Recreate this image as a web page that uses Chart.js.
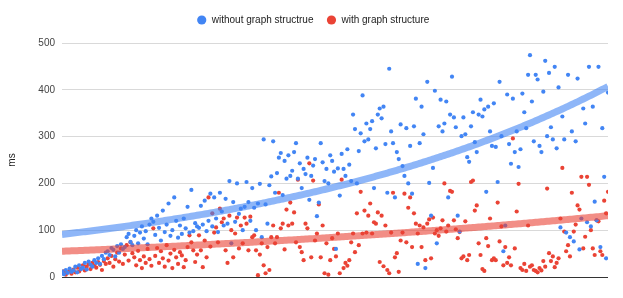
<!DOCTYPE html>
<html>
<head>
<meta charset="utf-8">
<script src="https://cdn.jsdelivr.net/npm/chart.js@4.4.1/dist/chart.umd.min.js"></script>
<style>
  html, body { margin: 0; padding: 0; background: #fff; }
</style>
</head>
<body>
<canvas id="chart" width="623" height="298"></canvas>
<script>
// series labels (the typo is in the original chart)
const seriesNames = ['without graph structrue', 'with graph structure'];

// values in ms, one per run left to right
const withoutGraph = [
  12, 6, 15, 9, 18, 11, 14, 22, 10, 25, 17, 20, 30, 16, 33, 26, 22, 36, 30, 40, 28, 45, 38, 52,
  55, 47, 62, 58, 44, 66, 52, 70, 60, 64, 85, 92, 75, 68, 88, 100, 72, 95, 108, 82, 98, 70, 112, 125,
  118, 90, 131, 105, 78, 142, 96, 112, 157, 88, 100, 170, 120, 84, 110, 92, 125, 104, 150, 95, 186, 98, 115, 108,
  105, 152, 112, 163, 98, 120, 178, 108, 170, 125, 96, 180, 140, 110, 167, 114, 205, 72, 160, 118, 200, 135, 146, 100,
  150, 203, 160, 120, 190, 148, 100, 157, 199, 85, 294, 155, 114, 196, 215, 290, 180, 222, 255, 265, 175, 248, 210, 260,
  216, 227, 267, 286, 210, 243, 190, 231, 220, 255, 165, 216, 238, 252, 130, 159, 286, 245, 205, 231, 200, 260, 248, 225,
  60, 232, 174, 263, 231, 216, 273, 240, 205, 347, 316, 200, 269, 307, 388, 290, 328, 294, 316, 333, 190, 275, 347, 360,
  339, 364, 284, 180, 445, 311, 286, 170, 267, 252, 326, 237, 216, 318, 200, 280, 178, 322, 381, 28, 286, 364, 305, 19,
  417, 201, 131, 233, 398, 72, 322, 379, 311, 328, 375, 170, 347, 428, 341, 320, 131, 97, 301, 341, 305, 256, 246, 322,
  352, 288, 267, 347, 379, 343, 358, 182, 364, 311, 280, 371, 278, 203, 417, 301, 55, 110, 390, 284, 242, 381, 267, 311,
  235, 273, 392, 352, 318, 432, 474, 375, 290, 432, 422, 280, 267, 396, 462, 301, 436, 320, 294, 449, 275, 405, 106, 343,
  294, 95, 432, 85, 311, 76, 290, 424, 59, 125, 360, 328, 117, 449, 108, 364, 161, 121, 449, 64, 318, 214, 40, 394
];

const withGraph = [
  8, 12, 5, 10, 14, 7, 16, 10, 20, 12, 18, 25, 14, 22, 28, 17, 30, 24, 20, 32, 26, 15, 34, 28,
  40, 30, 45, 22, 38, 52, 33, 61, 28, 48, 68, 35, 74, 51, 42, 25, 56, 36, 19, 44, 30, 60, 38, 24,
  104, 45, 62, 30, 55, 40, 22, 68, 35, 50, 19, 58, 42, 28, 53, 46, 21, 36, 64, 89, 74, 57, 32, 48,
  89, 57, 21, 78, 42, 170, 65, 136, 95, 106, 74, 146, 117, 125, 57, 30, 131, 100, 42, 93, 127, 61, 110, 72,
  127, 114, 57, 129, 85, 89, 57, 4, 48, 72, 25, 8, 64, 15, 85, 110, 72, 85, 180, 104, 114, 59, 144, 110,
  159, 114, 138, 74, 208, 64, 53, 36, 114, 104, 243, 42, 206, 78, 93, 155, 42, 110, 8, 72, 5, 36, 83, 60,
  44, 93, 8, 208, 19, 30, 24, 36, 74, 93, 53, 136, 68, 182, 93, 142, 95, 131, 157, 93, 117, 114, 138, 32,
  131, 23, 110, 15, 8, 95, 180, 42, 51, 11, 78, 95, 178, 74, 148, 170, 64, 136, 114, 93, 110, 64, 106, 36,
  114, 123, 40, 127, 93, 100, 88, 104, 121, 200, 97, 110, 184, 182, 121, 102, 83, 96, 40, 44, 119, 36, 47, 203,
  206, 142, 153, 72, 47, 17, 13, 83, 66, 125, 36, 40, 36, 159, 76, 108, 25, 64, 30, 42, 25, 296, 61, 140,
  199, 19, 15, 28, 13, 110, 22, 25, 15, 13, 10, 19, 14, 34, 22, 189, 51, 34, 44, 21, 30, 40, 125, 233,
  97, 55, 68, 44, 180, 97, 112, 153, 144, 214, 61, 86, 214, 197, 100, 61, 47, 121, 119, 55, 47, 163, 136, 182
];

// exponential trendlines: value at first and last run
const withoutTrendEnds = [91, 407];
const withTrendEnds = [55, 131];

const yTicks = [0, 100, 200, 300, 400, 500];

const blue = '#4285F4';
const red = '#EA4335';
const font = '"Liberation Sans", Arial, sans-serif';

// turn the value list into {x, y} points (x = run number)
function toPoints(values) {
  return values.map((v, i) => ({ x: i, y: v }));
}

// exponential trend y = a * (b/a)^(x/last) through the two end values
function trendPoints(ends, count) {
  const last = count - 1;
  const pts = [];
  for (let i = 0; i < count; i++) {
    pts.push({ x: i, y: ends[0] * Math.pow(ends[1] / ends[0], i / last) });
  }
  return pts;
}

// leave more room under the legend and nudge it a little to the right
const legendGap = {
  id: 'legendGap',
  beforeUpdate(chart) {
    const lg = chart.legend;
    if (lg && !lg._gapPatched) {
      const fit = lg.fit;
      lg.fit = function () {
        fit.call(this);
        this.height += 8;
        this.lineWidths = this.lineWidths.map(w => w - 18);
      };
      lg._gapPatched = true;
    }
  }
};

const n = withoutGraph.length;

new Chart(document.getElementById('chart'), {
  type: 'scatter',
  data: {
    datasets: [
      {
        label: 'trend1',
        type: 'line',
        data: trendPoints(withoutTrendEnds, n),
        borderColor: 'rgba(66,133,244,0.6)',
        borderWidth: 7,
        pointRadius: 0,
        fill: false
      },
      {
        label: 'trend2',
        type: 'line',
        data: trendPoints(withTrendEnds, n),
        borderColor: 'rgba(234,67,53,0.6)',
        borderWidth: 7,
        pointRadius: 0,
        fill: false
      },
      {
        label: seriesNames[0],
        data: toPoints(withoutGraph),
        backgroundColor: blue,
        borderWidth: 0,
        pointRadius: 2.1
      },
      {
        label: seriesNames[1],
        data: toPoints(withGraph),
        backgroundColor: red,
        borderWidth: 0,
        pointRadius: 2.1
      }
    ]
  },
  plugins: [legendGap],
  options: {
    responsive: false,
    animation: false,
    layout: { padding: { top: 2, right: 15, bottom: 21, left: 0 } },
    plugins: {
      tooltip: { enabled: false },
      legend: {
        position: 'top',
        align: 'center',
        labels: {
          usePointStyle: true,
          pointStyle: 'circle',
          boxWidth: 10,
          boxHeight: 6.5,
          padding: 13,
          color: '#222',
          font: { family: font, size: 10 },
          filter: item => item.datasetIndex >= 2
        }
      }
    },
    scales: {
      x: {
        type: 'linear',
        display: false,
        min: 0,
        max: n - 1
      },
      y: {
        min: 0,
        max: 500,
        afterBuildTicks: scale => { scale.ticks = yTicks.map(v => ({ value: v })); },
        afterFit: scale => { scale.width = 62; },
        border: { display: false },
        grid: {
          drawTicks: false,
          color: ctx => ctx.tick && ctx.tick.value === 0 ? '#333' : '#d9d9d9',
          lineWidth: 1
        },
        ticks: {
          padding: 7,
          color: '#444',
          font: { family: font, size: 10 }
        },
        title: {
          display: true,
          text: 'ms',
          color: '#222',
          padding: { top: 6, bottom: 0 },
          font: { family: font, size: 10 }
        }
      }
    }
  }
});
</script>
</body>
</html>
